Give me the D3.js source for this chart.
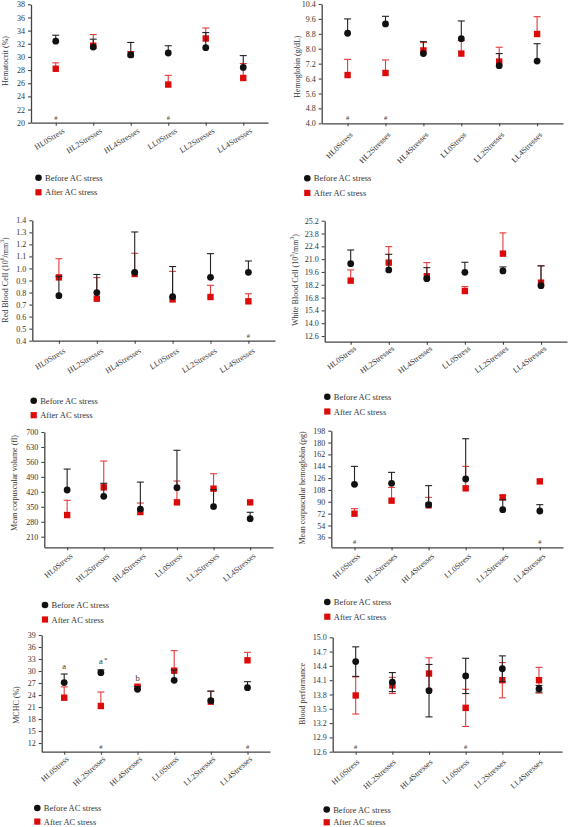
<!DOCTYPE html>
<html>
<head>
<meta charset="utf-8">
<script src="https://cdn.jsdelivr.net/npm/d3@7"></script>
<style>
  html, body { margin: 0; padding: 0; background: #fff; }
  svg { display: block; }
  text { font-family: "Liberation Serif", "DejaVu Serif", serif; fill: #333; }
</style>
</head>
<body>
<svg id="chart" width="568" height="827"></svg>
<script>
// ---------------- DATA ----------------
const categories = ["HL0Stress", "HL2Stresses", "HL4Stresses", "LL0Stress", "LL2Stresses", "LL4Stresses"];
const seriesNames = ["Before AC stress", "After AC stress"];

const hctBefore = [32.4, 31.5, 30.3, 30.6, 31.4, 28.4];
const hctBeforeErr = [0.9, 1.2, 1.9, 1.1, 2.3, 1.8];
const hctAfter = [28.2, 31.7, 30.4, 25.8, 32.8, 26.8];
const hctAfterErr = [0.9, 1.7, 0.4, 1.4, 1.6, 2.2];
const hctTicks = [20, 22, 24, 26, 28, 30, 32, 34, 36, 38];

const hbBefore = [8.83, 9.33, 7.74, 8.54, 7.09, 7.34];
const hbBeforeErr = [0.77, 0.41, 0.64, 0.95, 0.65, 0.93];
const hbAfter = [6.59, 6.70, 7.91, 7.74, 7.31, 8.79];
const hbAfterErr = [0.84, 0.70, 0.42, 0.70, 0.77, 0.93];
const hbTicks = [4.0, 4.8, 5.6, 6.4, 7.2, 8.0, 8.8, 9.6, 10.4];

const rbcBefore = [0.774, 0.800, 0.968, 0.766, 0.926, 0.968];
const rbcBeforeErr = [0.160, 0.150, 0.335, 0.250, 0.197, 0.094];
const rbcAfter = [0.926, 0.749, 0.954, 0.743, 0.763, 0.727];
const rbcAfterErr = [0.155, 0.175, 0.172, 0.233, 0.097, 0.063];
const rbcTicks = [0.4, 0.5, 0.6, 0.7, 0.8, 0.9, 1.0, 1.1, 1.2, 1.3, 1.4];

const wbcBefore = [20.51, 19.82, 18.87, 19.56, 19.71, 18.10];
const wbcBeforeErr = [1.49, 1.71, 1.20, 1.10, 0.44, 2.16];
const wbcAfter = [18.65, 20.62, 19.13, 17.52, 21.60, 18.43];
const wbcAfterErr = [1.17, 1.75, 1.49, 0.48, 2.27, 1.86];
const wbcTicks = [12.6, 14.0, 15.4, 16.8, 18.2, 19.6, 21.0, 22.4, 23.8, 25.2];

const mcvBefore = [428.5, 398.8, 339.5, 439.4, 350.4, 294.3];
const mcvBeforeErr = [98, 61, 126, 175, 80, 30];
const mcvAfter = [311.4, 441.0, 325.5, 370.7, 434.7, 370.7];
const mcvAfterErr = [69, 123, 42, 100, 70, 0];
const mcvTicks = [210, 280, 350, 420, 490, 560, 630, 700];

const mchBefore = [116.5, 118.0, 85.6, 124.6, 78.0, 76.0];
const mchBeforeErr = [27.3, 16.7, 28.9, 61.2, 15.0, 9.6];
const mchAfter = [71.9, 91.7, 84.6, 110.4, 96.7, 121.0];
const mchAfterErr = [7.6, 20.2, 12.1, 33.4, 3.0, 0];
const mchTicks = [36, 54, 72, 90, 108, 126, 144, 162, 180, 198];

const mchcBefore = [27.10, 29.58, 25.42, 27.67, 22.58, 25.83];
const mchcBeforeErr = [2.15, 0.70, 0.70, 2.58, 2.42, 1.50];
const mchcAfter = [23.33, 21.25, 26.08, 30.08, 22.33, 32.67];
const mchcAfterErr = [2.70, 3.50, 0.30, 5.00, 2.57, 2.00];
const mchcTicks = [12, 15, 18, 21, 24, 27, 30, 33, 36, 39];

const bpBefore = [14.49, 14.06, 13.88, 14.19, 14.34, 13.92];
const bpBeforeErr = [0.31, 0.20, 0.55, 0.37, 0.27, 0.07];
const bpAfter = [13.78, 13.99, 14.24, 13.52, 14.10, 14.10];
const bpAfterErr = [0.39, 0.17, 0.33, 0.39, 0.37, 0.27];
const bpTicks = [12.6, 12.9, 13.2, 13.5, 13.8, 14.1, 14.4, 14.7, 15.0];

// significance marks
const hctMarks = [["HL0Stress", "#"], ["LL0Stress", "#"]];
const hbMarks = [["HL0Stress", "#"], ["HL2Stresses", "#"]];
const rbcMarks = [["LL4Stresses", "#"]];
const mchMarks = [["HL0Stress", "#"], ["LL4Stresses", "#"]];
const mchcMarks = [["HL2Stresses", "#"], ["LL4Stresses", "#"]];
const mchcLetters = [["HL0Stress", "a", 30.6], ["HL2Stresses", "a", 31.8], ["HL4Stresses", "b", 27.6]];
const bpMarks = [["HL0Stress", "#"], ["LL0Stress", "#"]];

// ---------------- LAYOUT ----------------
const panels = [
  { label: ["Hematocrit (%)"], before: hctBefore, bErr: hctBeforeErr, after: hctAfter, aErr: hctAfterErr,
    ticks: hctTicks, dec: 0, min: 20, max: 38, yBot: 122.7, yTop: 4.3,
    axisX: 31, x0: 55.7, step: 37.5, xEnd: 268, labX: 6, labY: 61,
    rot: -32, ldx: 9.5, ldy: 9.5, legX: 38.5, legY: 177.7, legGap: 14.6, marks: hctMarks, both: false },
  { label: ["Hemoglobin (g/dL)"], before: hbBefore, bErr: hbBeforeErr, after: hbAfter, aErr: hbAfterErr,
    ticks: hbTicks, dec: 1, min: 4.0, max: 10.4, yBot: 123.3, yTop: 4,
    axisX: 321.7, x0: 349.7, step: 37.9, xEnd: 563, labX: 298, labY: 66.7,
    rot: -45, ldx: 5.5, ldy: 12, legX: 307.3, legY: 178.3, legGap: 14.6, marks: hbMarks, both: false },
  { label: ["Red Blood Cell (10", "6", "/mm", "3", ")"], before: rbcBefore, bErr: rbcBeforeErr, after: rbcAfter, aErr: rbcAfterErr,
    ticks: rbcTicks, dec: 1, min: 0.4, max: 1.4, yBot: 340.7, yTop: 220.3,
    axisX: 32.3, x0: 59.3, step: 37.9, xEnd: 275, labX: 6, labY: 280,
    rot: -32, ldx: 7, ldy: 11.5, legX: 33.7, legY: 400.7, legGap: 14.5, marks: rbcMarks, both: false },
  { label: ["White Blood Cell (10", "3", "/mm", "3", ")"], before: wbcBefore, bErr: wbcBeforeErr, after: wbcAfter, aErr: wbcAfterErr,
    ticks: wbcTicks, dec: 1, min: 11.98, max: 25.2, yBot: 341.7, yTop: 220.7,
    axisX: 324.7, x0: 350.7, step: 38.06, xEnd: 567, labX: 295.7, labY: 280,
    rot: -37, ldx: 6, ldy: 8, legX: 327.3, legY: 396.7, legGap: 14.8, marks: [], both: false },
  { label: ["Mean corpuscular volume (fl)"], before: mcvBefore, bErr: mcvBeforeErr, after: mcvAfter, aErr: mcvAfterErr,
    ticks: mcvTicks, dec: 0, min: 160.4, max: 700, yBot: 547.3, yTop: 432,
    axisX: 44.3, x0: 69.3, step: 36.6, xEnd: 273, labX: 15, labY: 483,
    rot: -40, ldx: 6, ldy: 9.5, legX: 45, legY: 605, legGap: 14.5, marks: [], both: false },
  { label: ["Mean corpuscular hemoglobin (pg)"], before: mchBefore, bErr: mchBeforeErr, after: mchAfter, aErr: mchAfterErr,
    ticks: mchTicks, dec: 0, min: 20.8, max: 198, yBot: 547.3, yTop: 430.7,
    axisX: 331.3, x0: 355.7, step: 37.06, xEnd: 563, labX: 303, labY: 488,
    rot: -42, ldx: 6, ldy: 9.5, legX: 327.3, legY: 602, legGap: 14.7, marks: mchMarks, both: false },
  { label: ["MCHC (%)"], before: mchcBefore, bErr: mchcBeforeErr, after: mchcAfter, aErr: mchcAfterErr,
    ticks: mchcTicks, dec: 0, min: 9.83, max: 39, yBot: 751.7, yTop: 635,
    axisX: 41.7, x0: 66, step: 36.66, xEnd: 270, labX: 16.7, labY: 705,
    rot: -42, ldx: 5, ldy: 8, legX: 37.3, legY: 808, legGap: 13.6, marks: mchcMarks, letters: mchcLetters, both: false },
  { label: ["Blood performance"], before: bpBefore, bErr: bpBeforeErr, after: bpAfter, aErr: bpAfterErr,
    ticks: bpTicks, dec: 1, min: 12.6, max: 15.0, yBot: 751.7, yTop: 637.3,
    axisX: 332.7, x0: 355.7, step: 36.66, xEnd: 562, labX: 303, labY: 694,
    rot: -42, ldx: 4, ldy: 11, legX: 326.7, legY: 809.5, legGap: 12.8, marks: bpMarks, both: true }
];

const BLACK = "#111";
const RED = "#dd0a0a";
const RED_ERR = "#e23a3a";
const AXIS = "#444";

const svg = d3.select("#chart");

function drawPanel(p) {
  const g = svg.append("g");
  const y = d3.scaleLinear().domain([p.min, p.max]).range([p.yBot, p.yTop]);
  const pad = ((p.xEnd - p.axisX) / p.step - (categories.length - 1)) / 2;
  const x = d3.scalePoint().domain(categories).range([p.axisX, p.xEnd]).padding(pad);

  // y axis
  const yAxis = g.append("g").attr("transform", `translate(${p.axisX},0)`)
    .call(d3.axisLeft(y).tickValues(p.ticks).tickSize(3).tickSizeOuter(0).tickPadding(3)
      .tickFormat(d => d3.format(p.dec ? ".1f" : "d")(d)));
  yAxis.select(".domain").attr("stroke", AXIS).attr("stroke-width", 1.3);
  yAxis.selectAll(".tick line").attr("stroke", AXIS).attr("stroke-width", 1.1);
  yAxis.selectAll(".tick text").attr("font-size", 8).attr("font-family", "Liberation Serif").attr("fill", "#333");

  // x axis
  const xAxis = g.append("g").attr("transform", `translate(0,${p.yBot})`)
    .call(d3.axisBottom(x).tickSize(3).tickSizeOuter(0).tickFormat(""));
  xAxis.select(".domain").attr("stroke", AXIS).attr("stroke-width", 1.3);
  xAxis.selectAll(".tick line").attr("stroke", AXIS).attr("stroke-width", 1.1);

  // rotated category labels
  g.selectAll("text.cat").data(categories).join("text")
    .attr("class", "cat")
    .attr("transform", d => `translate(${x(d) + p.ldx},${p.yBot + p.ldy}) rotate(${p.rot})`)
    .attr("text-anchor", "end")
    .attr("font-size", 8)
    .text(d => d);

  // y axis label
  const lab = g.append("text")
    .attr("transform", `translate(${p.labX},${p.labY}) rotate(-90)`)
    .attr("text-anchor", "middle")
    .attr("dominant-baseline", "middle")
    .attr("font-size", 8);
  p.label.forEach((s, i) => {
    const t = lab.append("tspan").text(s);
    if (i % 2 === 1) t.attr("baseline-shift", "super").attr("font-size", 5.5);
  });

  const series = [
    { vals: p.after, err: p.aErr, color: RED, ecolor: RED_ERR, shape: "square" },
    { vals: p.before, err: p.bErr, color: BLACK, ecolor: "#222", shape: "circle" }
  ];
  const capW = 3.5;
  series.forEach(s => {
    const data = categories.map((c, i) => ({ c, v: s.vals[i], e: s.err[i] }));
    const eg = g.append("g");
    data.filter(d => d.e > 0).forEach(d => {
      const cx = x(d.c);
      const yTop = y(d.v + d.e);
      const yLow = p.both ? y(d.v - d.e) : y(d.v);
      eg.append("line").attr("x1", cx).attr("x2", cx).attr("y1", yTop).attr("y2", yLow)
        .attr("stroke", s.ecolor).attr("stroke-width", 1.1);
      eg.append("line").attr("x1", cx - capW).attr("x2", cx + capW).attr("y1", yTop).attr("y2", yTop)
        .attr("stroke", s.ecolor).attr("stroke-width", 1.1);
      if (p.both) {
        eg.append("line").attr("x1", cx - capW).attr("x2", cx + capW).attr("y1", yLow).attr("y2", yLow)
          .attr("stroke", s.ecolor).attr("stroke-width", 1.1);
      }
    });
    if (s.shape === "square") {
      g.append("g").selectAll("rect").data(data).join("rect")
        .attr("x", d => x(d.c) - 3.2).attr("y", d => y(d.v) - 3.2)
        .attr("width", 6.4).attr("height", 6.4).attr("fill", s.color);
    } else {
      g.append("g").selectAll("circle").data(data).join("circle")
        .attr("cx", d => x(d.c)).attr("cy", d => y(d.v)).attr("r", 3.4).attr("fill", s.color);
    }
  });

  // significance marks
  (p.marks || []).forEach(([c, t]) => {
    g.append("text").attr("x", x(c)).attr("y", p.yBot - 3)
      .attr("text-anchor", "middle").attr("font-size", 6.5).attr("fill", "#555").text(t);
  });
  (p.letters || []).forEach(([c, t, v]) => {
    g.append("text").attr("x", x(c)).attr("y", y(v))
      .attr("text-anchor", "middle").attr("font-size", 8.5).attr("fill", "#333").text(t);
    if (c === "HL2Stresses") {
      g.append("text").attr("x", x(c) + 5).attr("y", y(v) - 2)
        .attr("text-anchor", "middle").attr("font-size", 7).attr("fill", "#333").text("*");
    }
  });

  // legend
  const lg = g.append("g");
  lg.append("circle").attr("cx", p.legX).attr("cy", p.legY).attr("r", 3.3).attr("fill", BLACK);
  lg.append("text").attr("x", p.legX + 6.5).attr("y", p.legY).attr("dominant-baseline", "central")
    .attr("font-size", 8.5).attr("fill", "#222").text(seriesNames[0]);
  const ly2 = p.legY + p.legGap;
  lg.append("rect").attr("x", p.legX - 3.1).attr("y", ly2 - 3.1).attr("width", 6.2).attr("height", 6.2).attr("fill", RED);
  lg.append("text").attr("x", p.legX + 6.5).attr("y", ly2).attr("dominant-baseline", "central")
    .attr("font-size", 8.5).attr("fill", "#222").text(seriesNames[1]);
}

panels.forEach(drawPanel);
</script>
</body>
</html>
